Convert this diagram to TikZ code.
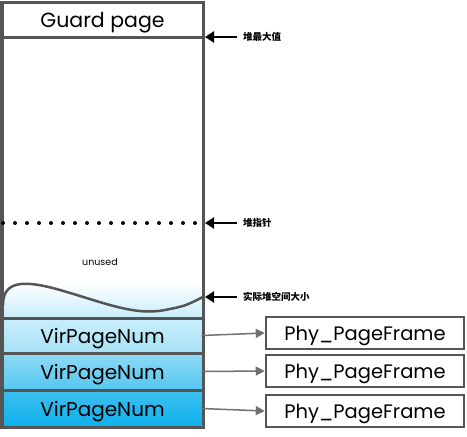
\documentclass[tikz,border=0pt]{standalone}
\usepackage{fontspec}
\setmainfont{Poppins}
\newfontfamily\cjk{Noto Sans CJK SC}
\usetikzlibrary{arrows.meta,calc}
\definecolor{frameg}{HTML}{555555}
\definecolor{arrowg}{HTML}{707070}
\definecolor{fadeblue}{HTML}{C8EEFB}
\definecolor{rowatop}{HTML}{C9EEFB}
\definecolor{rowabot}{HTML}{A8E2F7}
\definecolor{rowbtop}{HTML}{8DD8F5}
\definecolor{rowbbot}{HTML}{57C8F0}
\definecolor{rowctop}{HTML}{3DBFF0}
\definecolor{rowcbot}{HTML}{0FB0EC}
\tikzset{
    pagerow/.style={minimum width=198pt,minimum height=34pt,inner sep=0pt,text height=19pt,text depth=4pt,font=\fontsize{20}{20}\selectfont},
    framebox/.style={draw=frameg,line width=2.5pt,minimum width=198pt,minimum height=32pt,inner sep=0pt,text height=19pt,text depth=4pt,font=\fontsize{19.5}{20}\selectfont},
    maplink/.style={arrowg,line width=1.5pt,-{Triangle[length=9pt,width=9pt]}},
    marker/.style={black,line width=2.5pt,-{Triangle[length=9pt,width=11pt]}},
    marklabel/.style={anchor=west,inner sep=0pt,font=\cjk\bfseries\fontsize{9.5}{10}\selectfont}
}
\begin{document}
\begin{tikzpicture}[x=1pt,y=-1pt]
    \useasboundingbox (0,0) rectangle (467,437);
    % unused area fading into the stack
    \shade[top color=white,bottom color=fadeblue] (3.5,283) rectangle (201.5,317);
    \draw[frameg,line width=2.5pt,line cap=round]
        (3,305) .. controls (3,280) and (25,280) .. (60,290)
        .. controls (105,303) and (135,316) .. (165,310)
        .. controls (185,306) .. (203,297);
    % virtual page rows
    \node[pagerow,top color=rowatop,bottom color=rowabot] (vir1) at (102.5,335.5) {VirPageNum};
    \node[pagerow,top color=rowbtop,bottom color=rowbbot] (vir2) at (102.5,371.5) {VirPageNum};
    \node[pagerow,top color=rowctop,bottom color=rowcbot] (vir3) at (102.5,408.5) {VirPageNum};
    \node[text height=19pt,text depth=4pt,font=\fontsize{20.5}{20}\selectfont] (guard) at (102.5,19.5) {Guard page};
    \node[font=\fontsize{9.5}{10}\selectfont] (unused) at (100,262) {unused};
    % outer frame
    \draw[frameg,line width=3pt] (2,2) rectangle (203,427);
    \foreach \y in {37,318,353,390}
        \draw[frameg,line width=3pt] (2,\y) -- (203,\y);
    % heap pointer
    \draw[line width=4pt,line cap=round,dash pattern=on 0pt off 12pt] (3,223) -- (200,223);
    % physical frames
    \foreach \i/\y in {1/333,2/371,3/411}
        \node[framebox] (phy\i) at (365,\y) {Phy\_PageFrame};
    \foreach \i in {1,2,3}
        \draw[maplink] (vir\i.east) -- (phy\i.west);
    % markers
    \coordinate (maxtip) at (205,37);
    \coordinate (ptrtip) at (205,223);
    \coordinate (sizetip) at (205,297);
    \foreach \t/\txt in {max/堆最大值,ptr/堆指针,size/实际堆空间大小}{
        \coordinate (\t tail) at ($(\t tip)+(32,0)$);
        \draw[marker] (\t tail) -- (\t tip);
        \node[marklabel] (\t label) at ($(\t tip)+(38,0)$) {\txt};
    }
\end{tikzpicture}
\end{document}
